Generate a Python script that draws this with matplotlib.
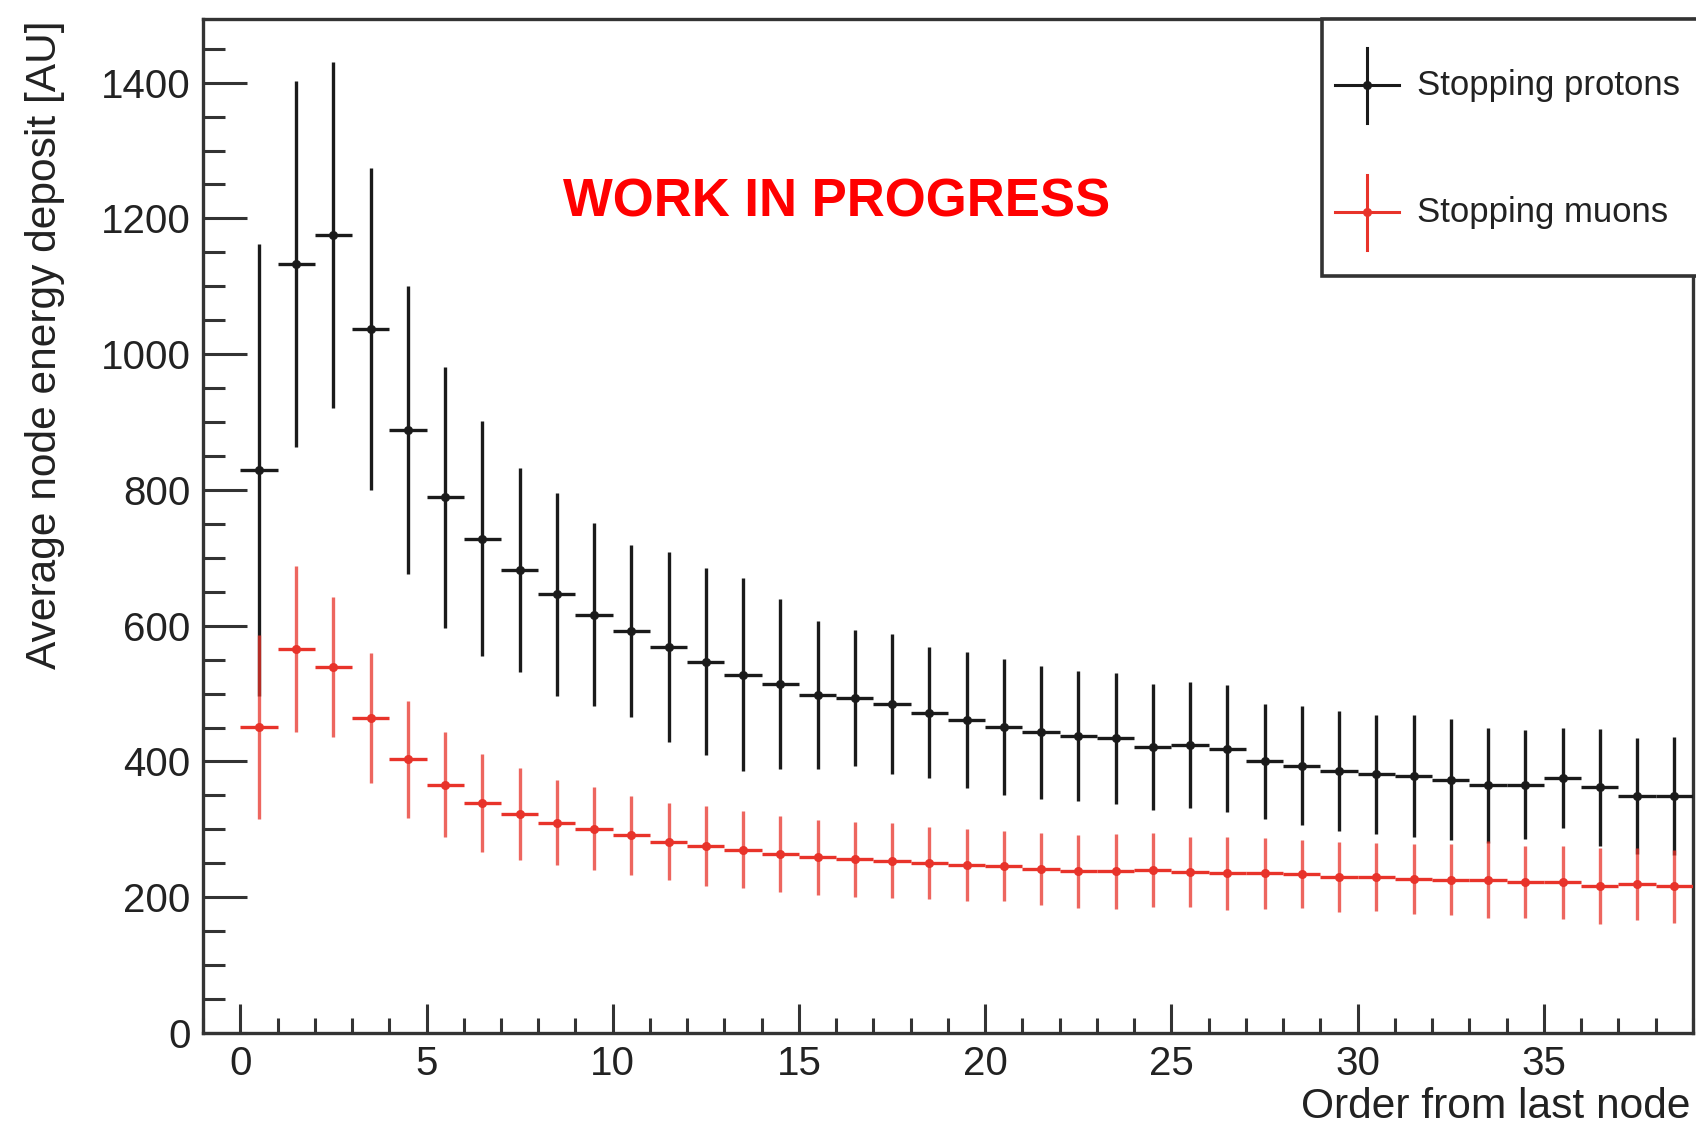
import matplotlib
matplotlib.use('Agg')
import matplotlib.pyplot as plt
from matplotlib.ticker import MultipleLocator
from matplotlib.patches import Rectangle
import numpy as np

plt.rcParams['font.family'] = ['Liberation Sans', 'DejaVu Sans']

# bin centres: order from last node
order = np.arange(39) + 0.5

# stopping protons: mean and spread
proton_mean = [829, 1133, 1176, 1037, 888, 789, 728, 682, 646, 616,
               592, 568, 547, 528, 514, 498, 493, 485, 472, 461,
               451, 443, 438, 434, 421, 424, 419, 400, 394, 386,
               381, 379, 373, 365, 366, 376, 362, 349, 349]
proton_err = [333, 270, 255, 237, 212, 192, 173, 150, 150, 135,
              127, 140, 138, 142, 125, 109, 100, 103, 96, 100,
              100, 98, 96, 96, 93, 93, 93, 85, 88, 88,
              88, 90, 89, 85, 80, 74, 86, 85, 87]

# stopping muons: mean and spread
muon_mean = [451, 566, 539, 464, 403, 366, 339, 323, 310, 301,
             291, 282, 275, 270, 264, 259, 256, 254, 251, 248,
             246, 242, 238, 238, 240, 237, 235, 235, 234, 230,
             230, 227, 226, 226, 222, 222, 216, 219, 216]
muon_err = [136, 122, 103, 96, 86, 77, 72, 68, 62, 61,
            58, 57, 59, 57, 56, 55, 55, 55, 53, 53,
            52, 53, 54, 55, 54, 52, 54, 52, 50, 52,
            50, 51, 52, 57, 53, 54, 56, 53, 54]

black = '#1a1a1a'
red = '#e8332a'

fig = plt.figure(figsize=(16.96, 11.27), dpi=100)
ax = fig.add_axes([0.1197, 0.0834, 0.8785, 0.8993])

ax.errorbar(order, proton_mean, xerr=0.5, yerr=proton_err, fmt='o',
            color=black, ms=5.5, elinewidth=2.4, capsize=0, zorder=3)
# muons: lighter vertical bars, solid horizontal bars
ax.errorbar(order, muon_mean, yerr=muon_err, fmt='none',
            ecolor=red, elinewidth=2.4, alpha=0.75, zorder=4)
ax.errorbar(order, muon_mean, xerr=0.5, fmt='o',
            color=red, ms=5.5, elinewidth=2.4, capsize=0, zorder=5)

ax.set_xlim(-1, 39)
ax.set_ylim(0, 1493)

ax.xaxis.set_major_locator(MultipleLocator(5))
ax.xaxis.set_minor_locator(MultipleLocator(1))
ax.yaxis.set_major_locator(MultipleLocator(200))
ax.yaxis.set_minor_locator(MultipleLocator(50))

ax.tick_params(axis='y', which='major', direction='in', length=31.5,
               width=2.2, labelsize=29, pad=9, color='#333333',
               labelcolor='#222222')
ax.tick_params(axis='y', which='minor', direction='in', length=15.8,
               width=2.2, color='#333333')
ax.tick_params(axis='x', which='major', direction='in', length=21,
               width=2.2, labelsize=29, pad=8.6, color='#333333',
               labelcolor='#222222')
ax.tick_params(axis='x', which='minor', direction='in', length=11,
               width=2.2, color='#333333')
for s in ax.spines.values():
    s.set_linewidth(2.4)
    s.set_color('#333333')

fig.text(0.0265, 0.982, 'Average node energy deposit [AU]', rotation=90,
         ha='center', va='top', fontsize=30.6, color='#222222')
fig.text(0.997, 0.0175, 'Order from last node', ha='right', va='center',
         fontsize=30.6, color='#222222')

ax.text(0.425, 0.819, 'WORK IN PROGRESS', transform=ax.transAxes,
        ha='center', va='center', fontsize=38, fontweight='bold',
        color='#ff0000')

# legend box, drawn by hand like the ROOT one
ax.add_patch(Rectangle((0.751, 0.747), 0.3, 0.253, transform=ax.transAxes,
                       facecolor='white', edgecolor='#333333', lw=2.6,
                       clip_on=False, zorder=6))
for yc, col, lab in [(0.935, black, 'Stopping protons'),
                     (0.810, red, 'Stopping muons')]:
    ax.plot([0.7595, 0.8025], [yc, yc], color=col, lw=2.2,
            transform=ax.transAxes, clip_on=False, zorder=7)
    ax.plot([0.781, 0.781], [yc - 0.037, yc + 0.037], color=col, lw=2.2,
            transform=ax.transAxes, clip_on=False, zorder=7)
    ax.plot([0.781], [yc], 'o', color=col, ms=5.5,
            transform=ax.transAxes, clip_on=False, zorder=7)
    ax.text(0.815, yc, lab, transform=ax.transAxes, ha='left',
            va='center', fontsize=25, color='#222222', zorder=7)

fig.savefig('out.png', dpi=100, facecolor='white')
